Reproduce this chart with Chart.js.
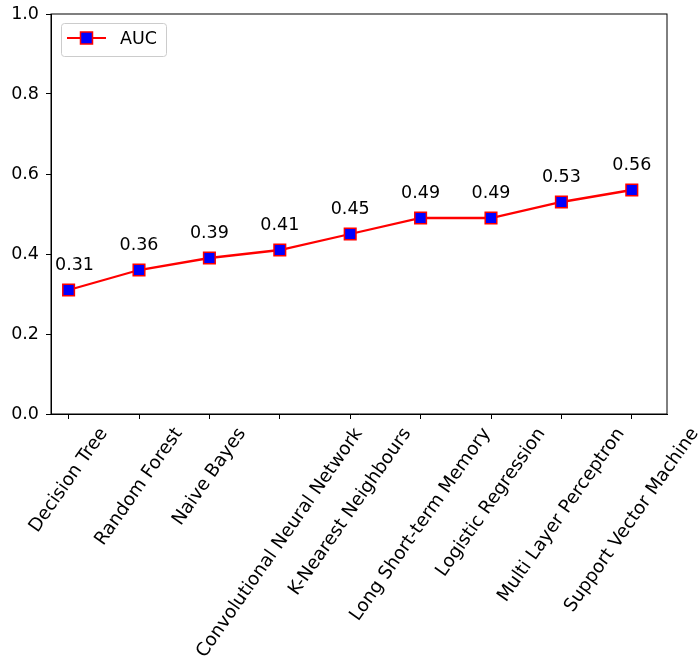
<!DOCTYPE html>
<html>
<head>
<meta charset="utf-8">
<script src="https://cdn.jsdelivr.net/npm/chart.js@4.4.1/dist/chart.umd.min.js"></script>
<style>
  html, body { margin: 0; padding: 0; background: #fff; }
  #wrap { width: 698px; height: 661px; }
</style>
</head>
<body>
<div id="wrap"><canvas id="myChart"></canvas></div>
<script>
const modeles = ['Decision Tree', 'Random Forest', 'Naive Bayes', 'Convolutional Neural Network',
  'K-Nearest Neighbours', 'Long Short-term Memory', 'Logistic Regression',
  'Multi Layer Perceptron', 'Support Vector Machine'];
const valeursAuc = [0.31, 0.36, 0.39, 0.41, 0.45, 0.49, 0.49, 0.53, 0.56];
const ticksY = [0, 0.2, 0.4, 0.6, 0.8, 1.0];

const police = '"DejaVu Sans", sans-serif';
const taille = 17.5;
const tailleX = 18.4;

// cadre, étiquettes des valeurs, étiquettes x centrées et légende
const decor = {
  id: 'decor',
  afterDatasetsDraw(chart) {
    const { ctx, chartArea: a, scales: { x, y } } = chart;
    ctx.save();
    ctx.strokeStyle = '#000';
    ctx.lineWidth = 1;
    ctx.strokeRect(a.left, a.top, a.right - a.left, a.bottom - a.top);

    ctx.font = `${taille}px ${police}`;
    ctx.fillStyle = '#000';
    ctx.textBaseline = 'alphabetic';
    valeursAuc.forEach((v, i) => {
      const txt = v.toFixed(2);
      const w = ctx.measureText(txt).width;
      let cx = x.getPixelForValue(i);
      if (cx - w / 2 < a.left + 4) cx = a.left + 4 + w / 2;
      ctx.textAlign = 'center';
      ctx.fillText(txt, cx, y.getPixelForValue(v + 0.05));
    });

    // étiquettes de l'axe x, centrées sous les graduations
    ctx.font = `${tailleX}px ${police}`;
    const angle = 55 * Math.PI / 180;
    const h = tailleX * 1.17;
    modeles.forEach((nom, i) => {
      const w = ctx.measureText(nom).width;
      const bh = w * Math.sin(angle) + h * Math.cos(angle);
      const cx = x.getPixelForValue(i);
      const cy = a.bottom + 10 + bh / 2;
      ctx.save();
      ctx.translate(cx, cy);
      ctx.rotate(-angle);
      ctx.textAlign = 'center';
      ctx.textBaseline = 'middle';
      ctx.fillText(nom, 0, 0);
      ctx.restore();
    });

    // légende
    ctx.font = `${taille}px ${police}`;
    const lx = a.left + 10, ly = a.top + 9, lw = 105, lh = 33;
    ctx.beginPath();
    ctx.roundRect(lx + 0.5, ly + 0.5, lw, lh, 3);
    ctx.fillStyle = 'rgba(255,255,255,0.8)';
    ctx.fill();
    ctx.strokeStyle = '#cccccc';
    ctx.stroke();
    const my = ly + 15;
    ctx.beginPath();
    ctx.moveTo(lx + 6, my);
    ctx.lineTo(lx + 45, my);
    ctx.strokeStyle = 'red';
    ctx.lineWidth = 2.2;
    ctx.stroke();
    ctx.fillStyle = 'blue';
    ctx.fillRect(lx + 19.5, my - 6, 12, 12);
    ctx.strokeStyle = 'red';
    ctx.lineWidth = 1.5;
    ctx.strokeRect(lx + 19.5, my - 6, 12, 12);
    ctx.fillStyle = '#000';
    ctx.textAlign = 'left';
    ctx.textBaseline = 'middle';
    ctx.fillText(chart.data.datasets[0].label, lx + 59, my + 1);
    ctx.restore();
  }
};

const ctx = document.getElementById('myChart').getContext('2d');
new Chart(ctx, {
  type: 'line',
  data: {
    datasets: [{
      label: 'AUC',
      data: valeursAuc.map((v, i) => ({ x: i, y: v })),
      borderColor: 'red',
      borderWidth: 2.3,
      pointStyle: 'rect',
      pointRadius: 8.2,
      pointBackgroundColor: 'blue',
      pointBorderColor: 'red',
      pointBorderWidth: 1.5,
      tension: 0,
      fill: false
    }]
  },
  options: {
    responsive: true,
    maintainAspectRatio: false,
    animation: false,
    events: [],
    layout: { autoPadding: false, padding: { top: 14, right: 31, left: 0, bottom: 0 } },
    plugins: { legend: { display: false }, tooltip: { enabled: false } },
    scales: {
      x: {
        type: 'linear',
        min: -0.25,
        max: 8.5,
        afterBuildTicks: axis => { axis.ticks = modeles.map((_, i) => ({ value: i })); },
        afterFit: axis => { axis.height = 247; axis.paddingLeft = 0; axis.paddingRight = 0; },
        ticks: { display: false },
        grid: { drawOnChartArea: false, drawTicks: true, tickLength: 5, tickColor: '#000' },
        border: { display: true, color: '#000' }
      },
      y: {
        min: 0,
        max: 1,
        afterBuildTicks: axis => { axis.ticks = ticksY.map(v => ({ value: v })); },
        afterFit: axis => { axis.width = 51; axis.paddingTop = 0; axis.paddingBottom = 0; },
        ticks: {
          callback: v => Number(v).toFixed(1),
          color: '#000',
          padding: 7,
          font: { family: police, size: taille }
        },
        grid: { drawOnChartArea: false, drawTicks: true, tickLength: 5, tickColor: '#000' },
        border: { display: true, color: '#000' }
      }
    }
  },
  plugins: [decor]
});
</script>
</body>
</html>
